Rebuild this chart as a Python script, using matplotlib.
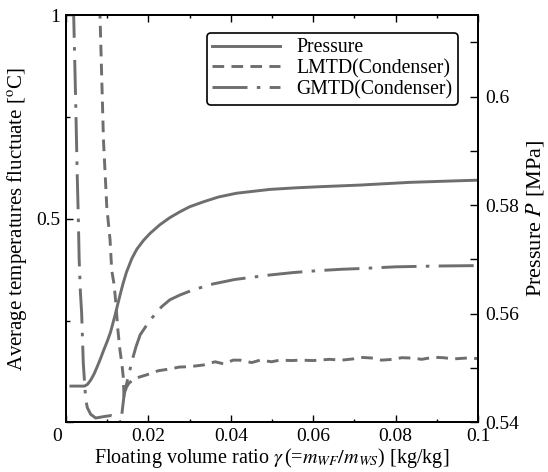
import numpy as np
import matplotlib
matplotlib.use('Agg')
import matplotlib.pyplot as plt
from matplotlib.transforms import ScaledTranslation

plt.rcParams['font.family'] = ['Liberation Serif', 'DejaVu Serif']
plt.rcParams['mathtext.fontset'] = 'stix'

# pressure (right axis) [MPa]
press_x = [0.0012, 0.0045, 0.0052, 0.0060, 0.0068, 0.0076, 0.0084, 0.0092, 0.0100,
           0.0108, 0.0119, 0.0131, 0.0139, 0.0147, 0.0160, 0.0172, 0.0188, 0.0204,
           0.0228, 0.0252, 0.0277, 0.0300, 0.0333, 0.0370, 0.0414, 0.0495, 0.0560,
           0.0617, 0.0714, 0.0835, 0.0956, 0.1000]
press_y = [0.5467, 0.5467, 0.5470, 0.5478, 0.5489, 0.5503, 0.5518, 0.5534, 0.5549,
           0.5566, 0.5597, 0.5634, 0.5657, 0.5677, 0.5702, 0.5719, 0.5735, 0.5748,
           0.5764, 0.5777, 0.5788, 0.5797, 0.5806, 0.5815, 0.5822, 0.5829, 0.5832,
           0.5834, 0.5837, 0.5842, 0.5845, 0.5846]

# LMTD (condenser), left axis
lmtd_x = [0.0082, 0.0091, 0.0099, 0.0107, 0.0111, 0.0117, 0.0121, 0.0126, 0.0131,
          0.0136, 0.0139, 0.0141, 0.0146, 0.0153, 0.0170, 0.0196, 0.0224, 0.0250,
          0.0275, 0.0300, 0.0333, 0.0362, 0.0382, 0.0406, 0.0422, 0.0451, 0.0471,
          0.0499, 0.0519, 0.0548, 0.0568, 0.0600, 0.0640, 0.0669, 0.0697, 0.0714,
          0.0746, 0.0766, 0.0794, 0.0815, 0.0843, 0.0863, 0.0892, 0.0916, 0.0940,
          0.0970, 0.1000]
lmtd_y = [1.02, 0.693, 0.530, 0.448, 0.374, 0.337, 0.293, 0.227, 0.178,
          0.141, 0.112, 0.062, 0.085, 0.097, 0.109, 0.117, 0.127, 0.131,
          0.136, 0.137, 0.141, 0.149, 0.144, 0.153, 0.153, 0.147, 0.153,
          0.149, 0.153, 0.152, 0.153, 0.152, 0.155, 0.153, 0.156, 0.160,
          0.158, 0.153, 0.155, 0.159, 0.158, 0.155, 0.160, 0.159, 0.156,
          0.158, 0.157]

# GMTD (condenser), left axis
gmtd_x = [0.0018, 0.0024, 0.0027, 0.0030, 0.0032, 0.0035, 0.0038, 0.0042, 0.0048,
          0.0052, 0.0060, 0.0072, 0.0095, 0.0110, 0.0120, 0.0128, 0.0133, 0.0141,
          0.0151, 0.0163, 0.0170, 0.0180, 0.0204, 0.0232, 0.0252, 0.0277, 0.0310,
          0.0357, 0.0410, 0.0495, 0.0552, 0.0617, 0.0669, 0.0720, 0.0800, 0.0900,
          0.1000]
gmtd_y = [1.03, 0.767, 0.620, 0.500, 0.400, 0.320, 0.269, 0.146, 0.055,
          0.036, 0.020, 0.011, 0.015, 0.017, 0.014, 0.008, -0.002, 0.067,
          0.112, 0.161, 0.186, 0.215, 0.251, 0.284, 0.301, 0.313, 0.326,
          0.340, 0.351, 0.362, 0.368, 0.373, 0.376, 0.378, 0.382, 0.384,
          0.385]

x_ticks = [0, 0.02, 0.04, 0.06, 0.08, 0.1]
x_labels = ['0', '0.02', '0.04', '0.06', '0.08', '0.1']
yl_ticks = [0, 0.5, 1]
yl_labels = ['', '0.5', '1']
yr_ticks = [0.54, 0.56, 0.58, 0.60]
yr_labels = ['0.54', '0.56', '0.58', '0.6']

fs = 14
fs_lab = 14.5
col = '#6e6e6e'
lw = 2.1

fig = plt.figure(figsize=(5.48, 4.72), dpi=100)
ax = fig.add_axes([0.1204, 0.1049, 0.7518, 0.8633])
ax2 = ax.twinx()

l2, = ax.plot(lmtd_x, lmtd_y, color=col, lw=lw, dashes=(4, 2.5), label='LMTD(Condenser)')
l3, = ax.plot(gmtd_x, gmtd_y, color=col, lw=lw, dashes=(12, 3.2, 1.2, 3.2), label='GMTD(Condenser)')
l1, = ax2.plot(press_x, press_y, color=col, lw=lw, label='Pressure')

ax.set_xlim(0, 0.1)
ax.set_ylim(0, 1)
ax2.set_ylim(0.54, 0.615)

ax.set_xticks(x_ticks)
ax.set_xticklabels(x_labels)
ax.set_xticks(np.arange(0.01, 0.1, 0.02), minor=True)
ax.set_yticks(yl_ticks)
ax.set_yticklabels(yl_labels)
ax.set_yticks([0.25, 0.75], minor=True)
ax2.set_yticks(yr_ticks)
ax2.set_yticklabels(yr_labels)
ax2.set_yticks([0.55, 0.57, 0.59, 0.61], minor=True)

ax.tick_params(axis='x', which='both', direction='in', top=True, labelsize=fs, pad=4)
ax.tick_params(axis='x', which='major', length=5, width=1)
ax.tick_params(axis='x', which='minor', length=2.5, width=1)
ax.tick_params(axis='y', which='both', direction='in', right=False, labelsize=fs, pad=4)
ax.tick_params(axis='y', which='major', length=5, width=1)
ax.tick_params(axis='y', which='minor', length=3, width=1)
ax2.tick_params(axis='y', which='both', direction='in', length=6, width=1, labelsize=fs, pad=5)

# shift the corner "0" a bit to the left like in the original
lbl0 = ax.get_xticklabels()[0]
lbl0.set_transform(lbl0.get_transform() + ScaledTranslation(-9 / 100, 0, fig.dpi_scale_trans))

for a in (ax, ax2):
    for s in a.spines.values():
        s.set_linewidth(1.3)

ax.set_xlabel(r'Floating volume ratio $\gamma\,$(=$m_{WF}/m_{WS}$) [kg/kg]', fontsize=fs_lab, labelpad=1)
ax.set_ylabel(r'Average temperatures fluctuate [$^{\rm o}$C]', fontsize=15, labelpad=5)
ax2.set_ylabel(r'Pressure $P$ [MPa]', fontsize=16, labelpad=4)

leg = ax2.legend(handles=[l1, l2, l3], loc='upper right', bbox_to_anchor=(0.951, 0.956),
                 borderaxespad=0, fancybox=True, fontsize=14.2, handlelength=3.45,
                 handletextpad=0.8, labelspacing=0.08, borderpad=0.28, framealpha=1)
leg.get_frame().set_edgecolor('black')
leg.get_frame().set_linewidth(1.2)

fig.savefig('out.png', dpi=100)
